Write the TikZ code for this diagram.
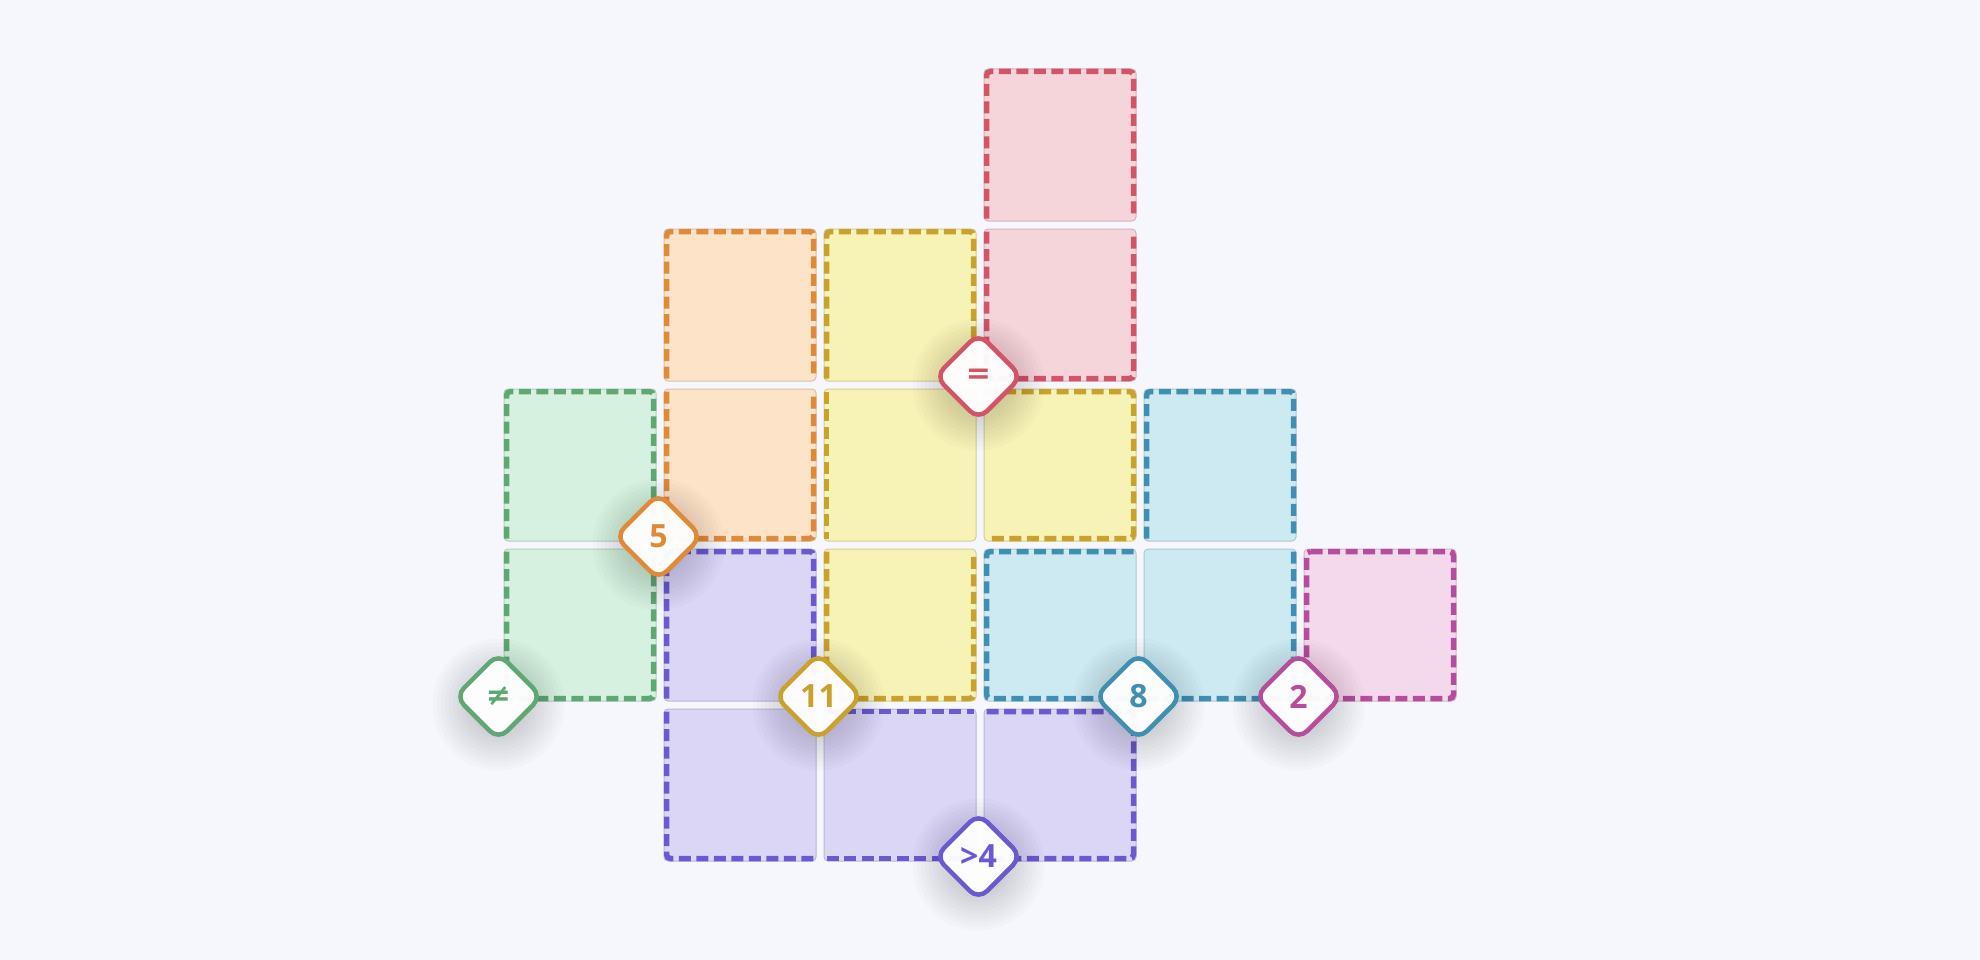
\documentclass[tikz,border=0pt]{standalone}
\usepackage{fontspec}
\setmainfont{Open Sans}
\newfontfamily\symf{DejaVu Sans}
\usetikzlibrary{shapes.geometric}
\definecolor{bg}{HTML}{F5F7FC}
\definecolor{redS}{HTML}{D35466}\definecolor{redF}{HTML}{F5D5D9}
\definecolor{oraS}{HTML}{E08A38}\definecolor{oraF}{HTML}{FDE3C7}
\definecolor{yelS}{HTML}{C8A22C}\definecolor{yelF}{HTML}{F7F2B5}
\definecolor{grnS}{HTML}{5FA874}\definecolor{grnF}{HTML}{D6F1DF}
\definecolor{bluS}{HTML}{3F8FB2}\definecolor{bluF}{HTML}{CDEAF2}
\definecolor{pnkS}{HTML}{B54D9C}\definecolor{pnkF}{HTML}{F4D9EC}
\definecolor{purS}{HTML}{6A5AD2}\definecolor{purF}{HTML}{DCD6F6}
\tikzset{
  cell/.style={minimum size=152pt, inner sep=0pt, rounded corners=4pt, line width=1pt, fill=#1, draw=#1!85!black},
  rg/.style={line width=5.5pt, dash pattern=on 12pt off 5.5pt, rounded corners=4pt, draw=#1},
  lbl/.style={shape=diamond, aspect=1, minimum width=88pt, minimum height=88pt, inner sep=0pt,
    rounded corners=12pt, line width=4.5pt, draw=#1, text=#1, fill=white, fill opacity=0.96, text opacity=1,
    font=\fontsize{32}{34}\selectfont\bfseries},
  shd/.style={fill=black, opacity=0.014}
}
\begin{document}
\begin{tikzpicture}[x=1pt,y=-1pt]
\fill[bg] (0,0) rectangle (1980,960);
\useasboundingbox (0,0) rectangle (1980,960);
% cells
\node[cell=redF] (n30) at (1060,145) {};
\node[cell=redF] (n31) at (1060,305) {};
\node[cell=oraF] (n11) at (740,305) {};
\node[cell=oraF] (n12) at (740,465) {};
\node[cell=yelF] (n21) at (900,305) {};
\node[cell=yelF] (n22) at (900,465) {};
\node[cell=yelF] (n32) at (1060,465) {};
\node[cell=yelF] (n23) at (900,625) {};
\node[cell=grnF] (n02) at (580,465) {};
\node[cell=grnF] (n03) at (580,625) {};
\node[cell=bluF] (n42) at (1220,465) {};
\node[cell=bluF] (n33) at (1060,625) {};
\node[cell=bluF] (n43) at (1220,625) {};
\node[cell=pnkF] (n53) at (1380,625) {};
\node[cell=purF] (n13) at (740,625) {};
\node[cell=purF] (n14) at (740,785) {};
\node[cell=purF] (n24) at (900,785) {};
\node[cell=purF] (n34) at (1060,785) {};
\foreach \n in {n30,n31,n11,n12,n21,n22,n32,n23,n02,n03,n42,n33,n43,n53,n13,n14,n24,n34}{
  \coordinate (\n-nw) at ([shift={(3,3)}]\n.north west);
  \coordinate (\n-ne) at ([shift={(-3,3)}]\n.north east);
  \coordinate (\n-se) at ([shift={(-3,-3)}]\n.south east);
  \coordinate (\n-sw) at ([shift={(3,-3)}]\n.south west);
}
% region outlines
\draw[rg=redS] (n30-sw) -- (n30-nw) -- (n30-ne) -- (n30-se);
\draw[rg=redS] (n31-nw) -- (n31-sw) -- (n31-se) -- (n31-ne);
\draw[rg=oraS] (n11-sw) -- (n11-nw) -- (n11-ne) -- (n11-se);
\draw[rg=oraS] (n12-nw) -- (n12-sw) -- (n12-se) -- (n12-ne);
\draw[rg=yelS] (n21-sw) -- (n21-nw) -- (n21-ne) -- (n21-se);
\draw[rg=yelS] (n22-nw) -- (n22-sw);
\draw[rg=yelS] (n32-nw) -- (n32-ne) -- (n32-se) -- (n32-sw);
\draw[rg=yelS] (n23-nw) -- (n23-sw) -- (n23-se) -- (n23-ne);
\draw[rg=grnS] (n02-sw) -- (n02-nw) -- (n02-ne) -- (n02-se);
\draw[rg=grnS] (n03-nw) -- (n03-sw) -- (n03-se) -- (n03-ne);
\draw[rg=bluS] (n42-sw) -- (n42-nw) -- (n42-ne) -- (n42-se);
\draw[rg=bluS] (n33-ne) -- (n33-nw) -- (n33-sw) -- (n33-se);
\draw[rg=bluS] (n43-ne) -- (n43-se) -- (n43-sw);
\draw[rg=pnkS] (n53-nw) -- (n53-ne) -- (n53-se) -- (n53-sw) -- cycle;
\draw[rg=purS] (n13-sw) -- (n13-nw) -- (n13-ne) -- (n13-se);
\draw[rg=purS] (n14-nw) -- (n14-sw) -- (n14-se);
\draw[rg=purS] (n24-nw) -- (n24-ne);
\draw[rg=purS] (n24-sw) -- (n24-se);
\draw[rg=purS] (n34-nw) -- (n34-ne) -- (n34-se) -- (n34-sw);
% label positions
\coordinate (pred) at ([shift={(-5,-5)}]n31.south west);
\coordinate (pora) at ([shift={(-5,-5)}]n12.south west);
\coordinate (pgrn) at ([shift={(-5,-5)}]n03.south west);
\coordinate (pyel) at ([shift={(-5,-5)}]n23.south west);
\coordinate (pblu) at ([shift={(-5,-5)}]n43.south west);
\coordinate (ppnk) at ([shift={(-5,-5)}]n53.south west);
\coordinate (ppur) at ([shift={(-5,-5)}]n34.south west);
% soft shadows
\foreach \p in {pred,pora,pgrn,pyel,pblu,ppnk,ppur}{
  \foreach \r in {30,34,...,66}{
    \fill[shd] ([yshift=-8pt]\p) circle (\r);
  }
}
% labels
\node[lbl=redS] (lred) at (pred) {\symf\bfseries\fontsize{30}{32}\selectfont =};
\node[lbl=oraS] (lora) at (pora) {5};
\node[lbl=grnS] (lgrn) at (pgrn) {\symf\bfseries\fontsize{30}{32}\selectfont ≠};
\node[lbl=yelS] (lyel) at (pyel) {11};
\node[lbl=bluS] (lblu) at (pblu) {8};
\node[lbl=pnkS] (lpnk) at (ppnk) {2};
\node[lbl=purS] (lpur) at (ppur) {>4};
\end{tikzpicture}
\end{document}
